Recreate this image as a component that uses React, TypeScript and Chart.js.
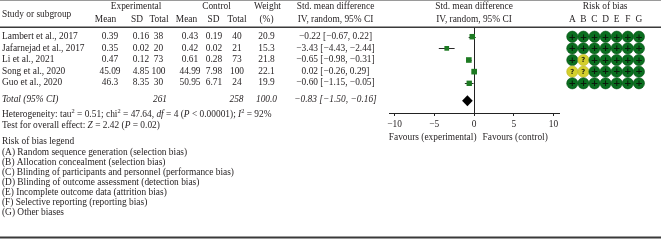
import React, { useEffect, useRef } from "react";
import { Chart, registerables } from "chart.js";

Chart.register(...registerables);

// ---------- data ----------
const studies = [
  "Lambert et al., 2017",
  "Jafarnejad et al., 2017",
  "Li et al., 2021",
  "Song et al., 2020",
  "Guo et al., 2020",
];
const expMean = [0.39, 0.35, 0.47, 45.09, 46.3];
const expSD = [0.16, 0.02, 0.12, 4.85, 8.35];
const expN = [38, 20, 73, 100, 30];
const ctrlMean = [0.43, 0.42, 0.61, 44.99, 50.95];
const ctrlSD = [0.19, 0.02, 0.28, 7.98, 6.71];
const ctrlN = [40, 21, 73, 100, 24];
const weights = [20.9, 15.3, 21.8, 22.1, 19.9];
const smd = [-0.22, -3.43, -0.65, 0.02, -0.6];
const ciLow = [-0.67, -4.43, -0.98, -0.26, -1.15];
const ciHigh = [0.22, -2.44, -0.31, 0.29, -0.05];

const totalExpN = 261;
const totalCtrlN = 258;
const totalWeight = 100.0;
const totalSmd = -0.83;
const totalLow = -1.5;
const totalHigh = -0.16;

const xTicks = [-10, -5, 0, 5, 10];

const biasDomains = ["A", "B", "C", "D", "E", "F", "G"];
const biasRows = [
  ["+", "+", "+", "+", "+", "+", "+"],
  ["+", "+", "+", "+", "+", "+", "+"],
  ["+", "?", "+", "+", "+", "+", "+"],
  ["?", "?", "+", "+", "+", "+", "+"],
  ["+", "+", "+", "+", "+", "+", "+"],
];

const biasLegend = [
  "(A) Random sequence generation (selection bias)",
  "(B) Allocation concealment (selection bias)",
  "(C) Blinding of participants and personnel (performance bias)",
  "(D) Blinding of outcome assessment (detection bias)",
  "(E) Incomplete outcome data (attrition bias)",
  "(F) Selective reporting (reporting bias)",
  "(G) Other biases",
];

// ---------- helpers ----------
const FONT = '"Liberation Serif", "DejaVu Serif", serif';
const FS = 9.4;
const TXT = "#231f20";
const GREEN = "#0a6e1f";
const YELLOW = "#d4cf2c";
const SQUARE = "#1d7a22";

const m = (s: string) => s.replace(/-/g, "\u2212");
const f2 = (v: number) => m(v.toFixed(2));
const ciText = (e: number, l: number, h: number) => `${f2(e)} [${f2(l)}, ${f2(h)}]`;

type Seg = { t: string; i?: boolean; sup?: boolean };

function setFont(ctx: CanvasRenderingContext2D, size: number, italic?: boolean) {
  ctx.font = `${italic ? "italic " : ""}${size}px ${FONT}`;
}

function drawRich(
  ctx: CanvasRenderingContext2D,
  x: number,
  y: number,
  segs: Seg[],
  align: "left" | "center" | "right" = "left",
  size = FS
) {
  let total = 0;
  const widths = segs.map((s) => {
    setFont(ctx, s.sup ? size * 0.68 : size, s.i);
    const w = ctx.measureText(s.t).width;
    total += w;
    return w;
  });
  let cx = align === "left" ? x : align === "center" ? x - total / 2 : x - total;
  ctx.textAlign = "left";
  ctx.textBaseline = "middle";
  ctx.fillStyle = TXT;
  segs.forEach((s, k) => {
    setFont(ctx, s.sup ? size * 0.68 : size, s.i);
    ctx.fillText(s.t, cx, s.sup ? y - 3 : y);
    cx += widths[k];
  });
}

function txt(
  ctx: CanvasRenderingContext2D,
  s: string,
  x: number,
  y: number,
  align: "left" | "center" | "right" = "center",
  italic = false,
  size = FS
) {
  drawRich(ctx, x, y, [{ t: s, i: italic }], align, size);
}

const TOTAL_ROW = 5.5;
const Y_MIN = -0.833;
const Y_MAX = 6.55;

const forestPlugin = {
  id: "forest",
  beforeDraw(chart: any) {
    const ctx = chart.ctx as CanvasRenderingContext2D;
    ctx.save();
    ctx.fillStyle = "#fff";
    ctx.fillRect(0, 0, chart.width, chart.height);
    ctx.restore();
  },
  beforeDatasetsDraw(chart: any) {
    const ctx = chart.ctx as CanvasRenderingContext2D;
    const xs = chart.scales.x;
    const ys = chart.scales.y;
    ctx.save();
    ctx.strokeStyle = "#2a2a2a";
    ctx.lineWidth = 1;
    smd.forEach((_, i) => {
      const py = Math.round(ys.getPixelForValue(i)) + 0.5;
      ctx.beginPath();
      ctx.moveTo(xs.getPixelForValue(ciLow[i]), py);
      ctx.lineTo(xs.getPixelForValue(ciHigh[i]), py);
      ctx.stroke();
    });
    // diamond
    const dy = ys.getPixelForValue(TOTAL_ROW);
    ctx.fillStyle = "#000";
    ctx.beginPath();
    ctx.moveTo(xs.getPixelForValue(totalLow), dy);
    ctx.lineTo(xs.getPixelForValue(totalSmd), dy - 5.5);
    ctx.lineTo(xs.getPixelForValue(totalHigh), dy);
    ctx.lineTo(xs.getPixelForValue(totalSmd), dy + 5.5);
    ctx.closePath();
    ctx.fill();
    ctx.restore();
  },
  afterDraw(chart: any) {
    const ctx = chart.ctx as CanvasRenderingContext2D;
    const xs = chart.scales.x;
    const ys = chart.scales.y;
    const W = chart.width;
    ctx.save();

    // rules
    ctx.fillStyle = "#9a9a9a";
    ctx.fillRect(0, 0, W, 1);
    ctx.fillStyle = "#3a3a3a";
    ctx.fillRect(0, 26.5, W, 1.5);
    ctx.fillRect(0, 236.5, W, 2);

    // header
    txt(ctx, "Study or subgroup", 2, 14.5, "left");
    txt(ctx, "Experimental", 136, 7);
    txt(ctx, "Control", 216.5, 7);
    txt(ctx, "Mean", 105.5, 19.3);
    txt(ctx, "SD", 137, 19.3);
    txt(ctx, "Total", 159, 19.3);
    txt(ctx, "Mean", 186.5, 19.3);
    txt(ctx, "SD", 213.5, 19.3);
    txt(ctx, "Total", 237, 19.3);
    txt(ctx, "Weight", 267.5, 7);
    txt(ctx, "(%)", 266.5, 19.3);
    txt(ctx, "Std. mean difference", 335.5, 7);
    txt(ctx, "IV, random, 95% CI", 335.5, 19.3);
    const x0 = xs.getPixelForValue(0);
    txt(ctx, "Std. mean difference", x0, 7);
    txt(ctx, "IV, random, 95% CI", x0, 19.3);

    // rows
    studies.forEach((s, i) => {
      const py = ys.getPixelForValue(i) - 0.3;
      txt(ctx, s, 2, py, "left");
      txt(ctx, String(expMean[i]), 110, py);
      txt(ctx, expSD[i].toFixed(2), 141, py);
      txt(ctx, String(expN[i]), 158.5, py);
      txt(ctx, String(ctrlMean[i]), 190, py);
      txt(ctx, ctrlSD[i].toFixed(2), 214, py);
      txt(ctx, String(ctrlN[i]), 237, py);
      txt(ctx, weights[i].toFixed(1), 266.5, py);
      txt(ctx, ciText(smd[i], ciLow[i], ciHigh[i]), 335.5, py);
    });

    // total row
    const ty = 99.6;
    txt(ctx, "Total (95% CI)", 2, ty, "left", true);
    txt(ctx, String(totalExpN), 160, ty, "center", true);
    txt(ctx, String(totalCtrlN), 236.5, ty, "center", true);
    txt(ctx, totalWeight.toFixed(1), 266.5, ty, "center", true);
    txt(ctx, ciText(totalSmd, totalLow, totalHigh), 335.5, ty, "center", true);

    drawRich(ctx, 2, 114.5, [
      { t: "Heterogeneity: tau" },
      { t: "2", sup: true },
      { t: " = 0.51; chi" },
      { t: "2", sup: true },
      { t: " = 47.64, " },
      { t: "df", i: true },
      { t: " = 4 (" },
      { t: "P", i: true },
      { t: " < 0.00001); " },
      { t: "I", i: true },
      { t: "2", sup: true },
      { t: " = 92%" },
    ]);
    drawRich(ctx, 2, 125.5, [
      { t: "Test for overall effect: " },
      { t: "Z", i: true },
      { t: " = 2.42 (" },
      { t: "P", i: true },
      { t: " = 0.02)" },
    ]);

    txt(ctx, "Risk of bias legend", 2, 141.5, "left");
    biasLegend.forEach((l, k) => {
      txt(ctx, l, 2, 152.5 + k * 10, "left");
    });

    // favours
    txt(ctx, "Favours (experimental)", x0 + 2.5, 138, "right");
    txt(ctx, "Favours (control)", x0 + 8.5, 138, "left");

    ctx.restore();
  },
};

const biasPlugin = {
  id: "biasText",
  afterDraw(chart: any) {
    const ctx = chart.ctx as CanvasRenderingContext2D;
    const xs = chart.scales.x;
    const ys = chart.scales.y;
    ctx.save();
    txt(ctx, "Risk of bias", xs.getPixelForValue(3) - 0.5, 7);
    biasDomains.forEach((d, k) => {
      txt(ctx, d, xs.getPixelForValue(k), 19.3);
    });
    ctx.textAlign = "center";
    ctx.textBaseline = "middle";
    biasRows.forEach((row, i) => {
      const py = ys.getPixelForValue(i);
      row.forEach((v, k) => {
        const px = xs.getPixelForValue(k);
        ctx.font = v === "+" ? 'bold 9px "DejaVu Sans"' : 'bold 7px "DejaVu Sans"';
        ctx.fillStyle = v === "+" ? "#0b1a0b" : "#2b2a10";
        ctx.fillText(v, px, py + 0.5);
      });
    });
    ctx.restore();
  },
};

export default function App() {
  const ref = useRef<HTMLCanvasElement | null>(null);
  const ref2 = useRef<HTMLCanvasElement | null>(null);

  useEffect(() => {
    if (!ref.current || !ref2.current) return;

    const chart = new Chart(ref.current, {
      type: "scatter",
      data: {
        datasets: [
          {
            data: smd.map((v, i) => ({ x: v, y: i })),
            pointStyle: "rect",
            pointRadius: weights.map((w) => Math.sqrt(w) * 0.85),
            backgroundColor: SQUARE,
            borderWidth: 0,
          },
        ],
      },
      options: {
        responsive: false,
        animation: false,
        events: [],
        layout: { padding: { left: 389, right: 102, top: 27, bottom: 107 } },
        plugins: { legend: { display: false }, tooltip: { enabled: false } },
        scales: {
          x: {
            type: "linear",
            min: -10.7,
            max: 10.7,
            afterBuildTicks: (scale: any) => {
              scale.ticks = xTicks.map((v) => ({ value: v }));
            },
            afterFit: (scale: any) => {
              scale.height = 20;
            },
            ticks: {
              color: TXT,
              font: { family: FONT, size: FS },
              padding: 3,
              callback: (v: any) => m(String(v)),
            },
            grid: {
              color: (c: any) => (c.tick && c.tick.value === 0 ? "#222" : "rgba(0,0,0,0)"),
              tickColor: "#222",
              tickLength: 3,
              lineWidth: 1,
            },
            border: { display: true, color: "#222", width: 1 },
          },
          y: {
            type: "linear",
            display: false,
            reverse: true,
            min: Y_MIN,
            max: Y_MAX,
          },
        },
      },
      plugins: [forestPlugin],
    });

    const biasPoints: { x: number; y: number }[] = [];
    const biasColors: string[] = [];
    biasRows.forEach((row, i) =>
      row.forEach((v, k) => {
        biasPoints.push({ x: k, y: i });
        biasColors.push(v === "+" ? GREEN : YELLOW);
      })
    );

    const chart2 = new Chart(ref2.current, {
      type: "scatter",
      data: {
        datasets: [
          {
            data: biasPoints,
            pointStyle: "circle",
            pointRadius: 5.6,
            backgroundColor: biasColors,
            borderColor: biasColors.map((c) => (c === GREEN ? "#075216" : "#b8b322")),
            borderWidth: 0.6,
          },
        ],
      },
      options: {
        responsive: false,
        animation: false,
        events: [],
        layout: { padding: { left: 20, right: 10, top: 27, bottom: 127 } },
        plugins: { legend: { display: false }, tooltip: { enabled: false } },
        scales: {
          x: { type: "linear", display: false, min: -1.108, max: -1.108 + 91 / 11.1 },
          y: { type: "linear", display: false, reverse: true, min: Y_MIN, max: Y_MAX },
        },
      },
      plugins: [biasPlugin],
    });

    return () => {
      chart.destroy();
      chart2.destroy();
    };
  }, []);

  return (
    <div style={{ position: "fixed", left: 0, top: 0, width: 661, height: 240, background: "#fff" }}>
      <canvas
        ref={ref}
        width={661}
        height={240}
        style={{ position: "absolute", left: 0, top: 0, width: 661, height: 240, display: "block" }}
      />
      <canvas
        ref={ref2}
        width={121}
        height={240}
        style={{ position: "absolute", left: 540, top: 0, width: 121, height: 240, display: "block" }}
      />
    </div>
  );
}
